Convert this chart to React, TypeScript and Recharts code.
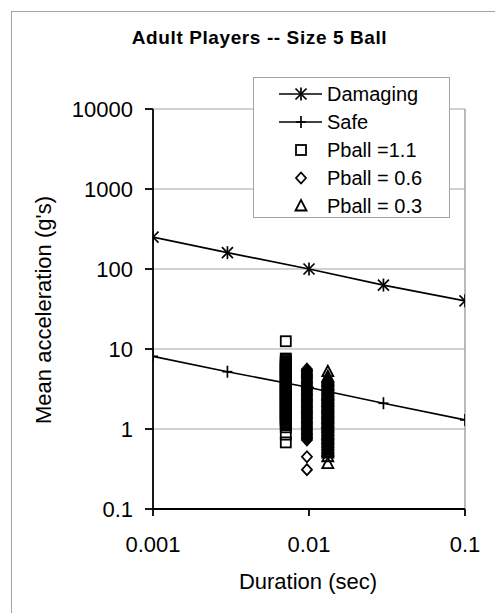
import React from 'react';
import {
  ScatterChart, Scatter, XAxis, YAxis, CartesianGrid, ReferenceLine,
} from 'recharts';

const durations = [0.001, 0.003, 0.01, 0.03, 0.1];
const damaging = [250, 160, 100, 63, 40];
const safe = [8.1, 5.2, 3.3, 2.1, 1.3];

const xTicks = [0.001, 0.01, 0.1];
const yTicks = [0.1, 1, 10, 100, 1000, 10000];

// measured ball impacts, one column per ball pressure
const pball11Duration = 0.0071;
const pball11Accel = [
  12.5, 7.6, 7.3, 7.0, 6.8, 6.6, 6.4, 6.2, 6.0, 5.8, 5.6, 5.45, 5.3, 5.15, 5.0,
  4.85, 4.7, 4.55, 4.4, 4.25, 4.1, 3.95, 3.8, 3.7, 3.6, 3.5, 3.4, 3.3, 3.2, 3.1,
  3.0, 2.9, 2.8, 2.72, 2.64, 2.56, 2.48, 2.4, 2.32, 2.25, 2.18, 2.11, 2.04,
  1.97, 1.9, 1.84, 1.78, 1.72, 1.66, 1.6, 1.55, 1.5, 1.45, 1.4, 1.35, 1.3,
  1.26, 1.22, 1.18, 1.12, 1.05, 0.85, 0.68,
];
const pball06Duration = 0.0097;
const pball06Accel = [
  5.6, 5.4, 5.2, 5.0, 4.85, 4.7, 4.55, 4.4, 4.25, 4.1, 3.95, 3.8, 3.68, 3.56,
  3.44, 3.32, 3.2, 3.1, 3.0, 2.9, 2.8, 2.7, 2.61, 2.52, 2.44, 2.36, 2.28, 2.2,
  2.12, 2.05, 1.98, 1.91, 1.84, 1.78, 1.72, 1.66, 1.6, 1.55, 1.5, 1.45, 1.4,
  1.35, 1.3, 1.25, 1.2, 1.16, 1.12, 1.08, 1.04, 1.0, 0.96, 0.92, 0.88, 0.85,
  0.82, 0.79, 0.76, 0.73, 0.45, 0.31,
];
const pball03Duration = 0.0132;
const pball03Accel = [
  5.2, 4.5, 4.35, 4.2, 4.05, 3.9, 3.75, 3.6, 3.48, 3.36, 3.24, 3.12, 3.0, 2.9,
  2.8, 2.7, 2.61, 2.52, 2.44, 2.36, 2.28, 2.2, 2.12, 2.05, 1.98, 1.91, 1.84,
  1.78, 1.72, 1.66, 1.6, 1.55, 1.5, 1.45, 1.4, 1.35, 1.3, 1.25, 1.2, 1.16, 1.12,
  1.08, 1.04, 1.0, 0.96, 0.92, 0.88, 0.85, 0.82, 0.79, 0.76, 0.73, 0.7, 0.67,
  0.64, 0.61, 0.58, 0.56, 0.54, 0.52, 0.5, 0.45, 0.37,
];

const FONT = '"Liberation Sans", Arial, sans-serif';
const GRAY = '#a3a3a3';

const damagingData = durations.map((x, i) => ({ x, y: damaging[i] }));
const safeData = durations.map((x, i) => ({ x, y: safe[i] }));
const p11Data = pball11Accel.map((y) => ({ x: pball11Duration, y }));
const p06Data = pball06Accel.map((y) => ({ x: pball06Duration, y }));
const p03Data = pball03Accel.map((y) => ({ x: pball03Duration, y }));

const Star = ({ cx, cy }: any) => (
  <g stroke="#000" strokeWidth={1.7}>
    <line x1={cx} y1={cy - 6.5} x2={cx} y2={cy + 6.5} />
    <line x1={cx - 5.5} y1={cy - 5.5} x2={cx + 5.5} y2={cy + 5.5} />
    <line x1={cx - 5.5} y1={cy + 5.5} x2={cx + 5.5} y2={cy - 5.5} />
  </g>
);

const Plus = ({ cx, cy }: any) => (
  <g stroke="#000" strokeWidth={1.7}>
    <line x1={cx} y1={cy - 6} x2={cx} y2={cy + 6} />
    <line x1={cx - 5} y1={cy} x2={cx + 5} y2={cy} />
  </g>
);

const Square = ({ cx, cy }: any) => (
  <rect x={cx - 5} y={cy - 5} width={10} height={10} fill="none" stroke="#000" strokeWidth={1.8} />
);

const Diamond = ({ cx, cy }: any) => (
  <path d={`M${cx},${cy - 5.5}L${cx + 5},${cy}L${cx},${cy + 5.5}L${cx - 5},${cy}Z`} fill="none" stroke="#000" strokeWidth={1.8} />
);

const Triangle = ({ cx, cy }: any) => (
  <path d={`M${cx},${cy - 6}L${cx + 5.5},${cy + 4.5}L${cx - 5.5},${cy + 4.5}Z`} fill="none" stroke="#000" strokeWidth={1.8} />
);

const legendRows = [
  { label: 'Damaging', icon: Star, line: true },
  { label: 'Safe', icon: Plus, line: true },
  { label: 'Pball =1.1', icon: Square, line: false },
  { label: 'Pball = 0.6', icon: Diamond, line: false },
  { label: 'Pball = 0.3', icon: Triangle, line: false },
];

function LegendBox() {
  return (
    <div
      style={{
        position: 'absolute', left: 253, top: 77, width: 195, height: 139,
        background: '#fff', border: `1.5px solid ${GRAY}`, fontFamily: FONT, fontSize: 20,
      }}
    >
      {legendRows.map((row, i) => {
        const Icon = row.icon;
        return (
          <div key={row.label} style={{ position: 'absolute', left: 0, top: 2 + i * 28, height: 28, width: '100%' }}>
            <svg width={74} height={28} style={{ position: 'absolute', left: 0, top: 0 }}>
              {row.line && <line x1={25} y1={14} x2={68} y2={14} stroke="#000" strokeWidth={1.7} />}
              <Icon cx={47} cy={14} />
            </svg>
            <span style={{ position: 'absolute', left: 73, top: 1, lineHeight: '26px', color: '#000' }}>{row.label}</span>
          </div>
        );
      })}
    </div>
  );
}

export default function App() {
  return (
    <div style={{ position: 'absolute', left: 0, top: 0, width: 495, height: 613, overflow: 'hidden', background: '#fff', fontFamily: FONT }}>
      <div style={{ position: 'absolute', left: 11, top: 11, width: 600, height: 700, border: `1.5px solid ${GRAY}` }} />
      <div
        style={{
          position: 'absolute', left: 0, width: 519, top: 27, textAlign: 'center',
          fontSize: 19, fontWeight: 'bold', letterSpacing: 0.6, color: '#000',
        }}
      >
        Adult Players -- Size 5 Ball
      </div>
      <div style={{ position: 'absolute', left: 0, top: 0 }}>
        <ScatterChart width={495} height={613} margin={{ top: 109, right: 30, bottom: 44, left: 73 }}>
          <CartesianGrid vertical={false} stroke={GRAY} strokeWidth={1.2} />
          <ReferenceLine x={0.1} stroke={GRAY} strokeWidth={1.5} ifOverflow="visible" />
          <XAxis
            dataKey="x" type="number" scale="log" domain={[0.001, 0.1]} ticks={xTicks}
            allowDataOverflow height={60} tickSize={7} tickMargin={20}
            axisLine={{ stroke: '#000', strokeWidth: 1.8 }} tickLine={{ stroke: '#000', strokeWidth: 1.8 }}
            tick={{ fontSize: 22, fill: '#000', fontFamily: FONT }}
            tickFormatter={(v) => String(v)}
          />
          <YAxis
            dataKey="y" type="number" scale="log" domain={[0.1, 10000]} ticks={yTicks}
            allowDataOverflow width={80} tickSize={8} tickMargin={12}
            axisLine={{ stroke: '#000', strokeWidth: 1.8 }} tickLine={{ stroke: '#000', strokeWidth: 1.8 }}
            tick={{ fontSize: 22, fill: '#000', fontFamily: FONT }}
            tickFormatter={(v) => String(v)}
          />
          <Scatter name="Damaging" data={damagingData} line={{ stroke: '#000', strokeWidth: 1.7 }} shape={Star} isAnimationActive={false} />
          <Scatter name="Safe" data={safeData} line={{ stroke: '#000', strokeWidth: 1.7 }} shape={Plus} isAnimationActive={false} />
          <Scatter name="Pball =1.1" data={p11Data} shape={Square} isAnimationActive={false} />
          <Scatter name="Pball = 0.6" data={p06Data} shape={Diamond} isAnimationActive={false} />
          <Scatter name="Pball = 0.3" data={p03Data} shape={Triangle} isAnimationActive={false} />
        </ScatterChart>
      </div>
      <div
        style={{
          position: 'absolute', left: 44, top: 310, transform: 'translate(-50%, -50%) rotate(-90deg)',
          whiteSpace: 'nowrap', fontSize: 22, color: '#000',
        }}
      >
        Mean acceleration (g's)
      </div>
      <div style={{ position: 'absolute', left: 208, width: 200, top: 569, textAlign: 'center', fontSize: 22, color: '#000' }}>
        Duration (sec)
      </div>
      <LegendBox />
    </div>
  );
}
